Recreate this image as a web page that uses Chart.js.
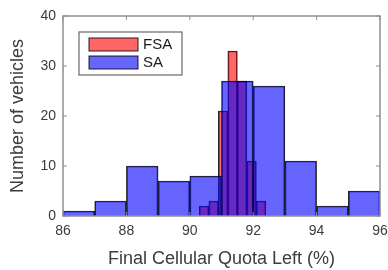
<!DOCTYPE html>
<html>
<head>
<meta charset="utf-8">
<script src="https://cdn.jsdelivr.net/npm/chart.js@4/dist/chart.umd.min.js"></script>
<style>
  html, body { margin: 0; padding: 0; background: #fff; }
  #wrap { width: 388px; height: 270px; }
</style>
</head>
<body>
<div id="wrap"><canvas id="chart" width="388" height="270"></canvas></div>
<script>
// bin centres and counts
const saBins = [86.5, 87.5, 88.5, 89.5, 90.5, 91.5, 92.5, 93.5, 94.5, 95.5];
const saCounts = [1, 3, 10, 7, 8, 27, 26, 11, 2, 5];
const fsaBins = [90.45, 90.75, 91.05, 91.35, 91.65, 91.95, 92.25];
const fsaCounts = [2, 3, 21, 33, 27, 11, 3];
const seriesNames = ['FSA', 'SA'];
const xTicks = [86, 88, 90, 92, 94, 96];
const yTicks = [0, 10, 20, 30, 40];

const redFill = 'rgba(255, 0, 0, 0.6)';
const blueFill = 'rgba(0, 0, 255, 0.6)';
const edge = 'rgba(0, 0, 0, 0.85)';
const axisGray = '#8f8f8f';
const textGray = '#3c3c3c';
const fontFamily = '"Liberation Sans", Arial, sans-serif';

function toPoints(bins, counts) {
    return bins.map((b, i) => ({ x: b, y: counts[i] }));
}

// box round the axes, inward tick marks and the legend, MATLAB style
const matlabAxes = {
    id: 'matlabAxes',
    afterDatasetsDraw(chart) {
        const ctx = chart.ctx;
        const a = chart.chartArea;
        const xs = chart.scales.x, ys = chart.scales.y;
        ctx.save();
        ctx.strokeStyle = axisGray;
        ctx.lineWidth = 1.5;
        ctx.strokeRect(a.left, a.top, a.right - a.left, a.bottom - a.top);
        ctx.lineWidth = 1;
        yTicks.forEach(v => {
            const py = ys.getPixelForValue(v);
            ctx.beginPath();
            ctx.moveTo(a.left, py); ctx.lineTo(a.left + 4, py);
            ctx.moveTo(a.right, py); ctx.lineTo(a.right - 4, py);
            ctx.stroke();
        });
        xTicks.forEach(v => {
            const px = xs.getPixelForValue(v);
            ctx.beginPath();
            ctx.moveTo(px, a.bottom); ctx.lineTo(px, a.bottom - 4);
            ctx.moveTo(px, a.top); ctx.lineTo(px, a.top + 4);
            ctx.stroke();
        });

        // legend
        const lx = a.left + 16, ly = a.top + 16;
        ctx.fillStyle = '#fff';
        ctx.fillRect(lx, ly, 103, 43);
        ctx.strokeStyle = '#6a6a6a';
        ctx.lineWidth = 1.2;
        ctx.strokeRect(lx, ly, 103, 43);
        const fills = [redFill, blueFill];
        ctx.font = '15px ' + fontFamily;
        ctx.textBaseline = 'middle';
        seriesNames.forEach((name, i) => {
            const sy = ly + 6 + i * 18;
            ctx.fillStyle = fills[i];
            ctx.fillRect(lx + 10, sy, 49, 13);
            ctx.strokeStyle = edge;
            ctx.lineWidth = 1;
            ctx.strokeRect(lx + 10, sy, 49, 13);
            ctx.fillStyle = '#1a1a1a';
            ctx.fillText(name, lx + 64, sy + 7);
        });
        ctx.restore();
    }
};

const ctx = document.getElementById('chart').getContext('2d');
new Chart(ctx, {
    type: 'bar',
    data: {
        datasets: [{
            label: seriesNames[0],
            data: toPoints(fsaBins, fsaCounts),
            backgroundColor: redFill,
            borderColor: edge,
            borderWidth: 1,
            stack: 'hist',
            order: 2
        }, {
            label: seriesNames[1],
            data: toPoints(saBins, saCounts),
            backgroundColor: blueFill,
            borderColor: edge,
            borderWidth: 1,
            stack: 'hist',
            order: 1
        }]
    },
    plugins: [matlabAxes],
    options: {
        responsive: false,
        animation: false,
        layout: { padding: { left: 0, right: 8, top: 16, bottom: 0 } },
        datasets: {
            bar: {
                barThickness: 'flex',
                barPercentage: 1,
                categoryPercentage: 1
            }
        },
        plugins: {
            legend: { display: false },
            tooltip: { enabled: false }
        },
        scales: {
            x: {
                type: 'linear',
                offset: false,
                min: 86,
                max: 96,
                grid: { display: false, drawTicks: false },
                border: { display: false },
                afterBuildTicks: (scale) => { scale.ticks = xTicks.map(v => ({ value: v })); },
                ticks: {
                    color: textGray,
                    padding: 7,
                    maxRotation: 0,
                    font: { family: fontFamily, size: 14 }
                },
                title: {
                    display: true,
                    text: 'Final Cellular Quota Left (%)',
                    color: textGray,
                    padding: { top: 6, bottom: 0 },
                    font: { family: fontFamily, size: 18 }
                },
                afterFit: (scale) => {
                    scale.height = 54;
                    scale.paddingLeft = 0;
                    scale.paddingRight = 0;
                }
            },
            y: {
                min: 0,
                max: 40,
                stacked: false,
                grid: { display: false, drawTicks: false },
                border: { display: false },
                afterBuildTicks: (scale) => { scale.ticks = yTicks.map(v => ({ value: v })); },
                ticks: {
                    color: textGray,
                    padding: 7,
                    font: { family: fontFamily, size: 14 }
                },
                title: {
                    display: true,
                    text: 'Number of vehicles',
                    color: textGray,
                    padding: { top: 7, bottom: 4 },
                    font: { family: fontFamily, size: 18 }
                },
                afterFit: (scale) => { scale.width = 63; }
            }
        }
    }
});
</script>
</body>
</html>
